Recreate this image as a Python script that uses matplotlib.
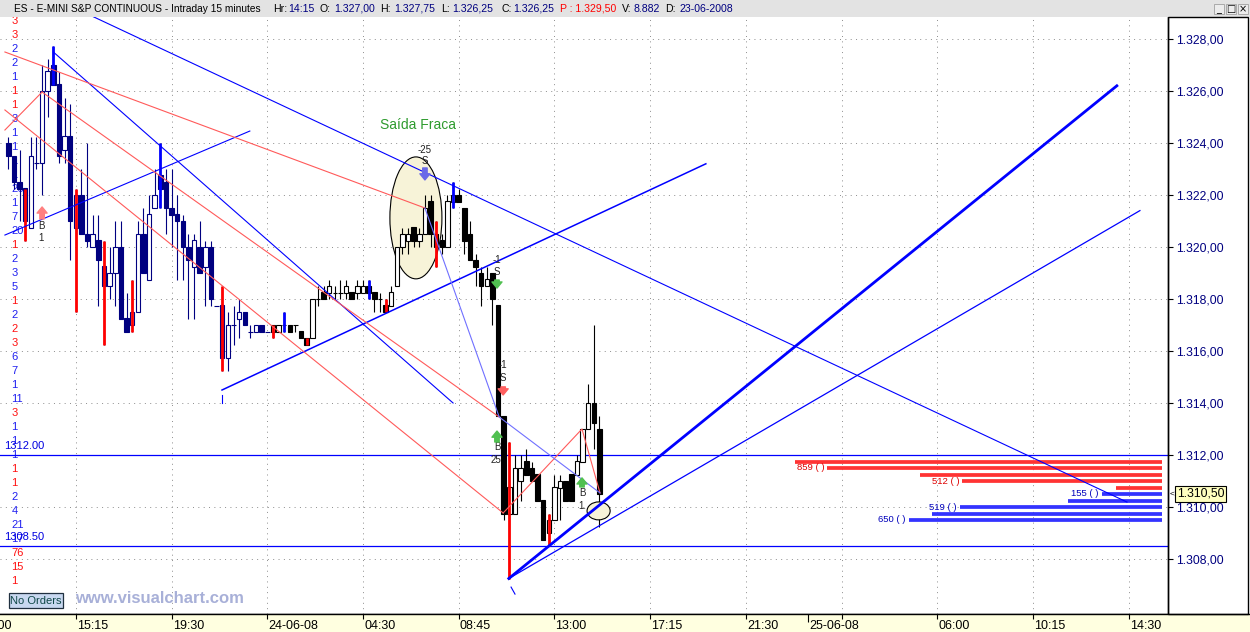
import numpy as np
import matplotlib
matplotlib.use("Agg")
import matplotlib.pyplot as plt
from matplotlib.patches import Ellipse, Rectangle
from matplotlib.transforms import blended_transform_factory

plt.rcParams['font.family'] = ['Liberation Sans', 'DejaVu Sans']

# ---------------- data (15-minute bars, ES) ----------------
opens = [1324.0, 1323.5, 1322.5, 1322.25, 1320.75, 1323.25, 1323.25, 1326.0, 1327.0, 1326.25,
         1323.75, 1324.25, 1320.75, 1322.0, 1320.5, 1320.0, 1320.25, 1319.25, 1318.5, 1319.0,
         1320.0, 1317.25, 1317.0, 1317.5, 1320.5, 1318.75, 1321.5, 1322.75, 1322.5, 1321.5,
         1321.25, 1321.0, 1320.0, 1319.25, 1320.0, 1319.25, 1320.0, 1317.75, 1317.75, 1315.75,
         1317.0, 1317.25, 1317.5, 1316.75, 1316.75, 1317.0, 1316.75, 1316.75, 1316.75, 1317.0,
         1317.0, 1317.0, 1316.75, 1316.5, 1316.5, 1318.0, 1318.25, 1318.25, 1318.25, 1318.25,
         1318.25, 1318.25, 1318.25, 1318.25, 1318.5, 1318.25, 1318.0, 1317.75, 1317.75, 1318.5,
         1320.0, 1320.25, 1320.75, 1320.25, 1320.5, 1321.75, 1320.5, 1320.25, 1320.0, 1321.75,
         1322.0, 1321.5, 1320.5, 1319.5, 1319.0, 1318.5, 1319.0, 1317.75, 1313.5, 1309.75,
         1309.75, 1311.0, 1311.75, 1311.5, 1311.25, 1310.25, 1309.0, 1309.5, 1310.75, 1311.0,
         1311.25, 1311.25, 1311.75, 1313.0, 1314.0, 1313.0]
highs = [1324.25, 1323.5, 1323.75, 1322.25, 1324.25, 1324.25, 1327.0, 1327.25, 1327.75, 1326.75,
         1325.75, 1325.5, 1322.25, 1323.0, 1324.0, 1321.25, 1321.25, 1320.25, 1320.0, 1321.0,
         1321.0, 1318.25, 1318.75, 1321.0, 1321.5, 1322.0, 1323.0, 1324.0, 1323.0, 1323.0,
         1322.0, 1321.25, 1320.5, 1320.5, 1321.0, 1320.25, 1320.25, 1317.75, 1318.5, 1317.5,
         1317.75, 1318.0, 1317.5, 1317.0, 1317.0, 1317.0, 1316.75, 1317.0, 1317.0, 1317.5,
         1317.0, 1317.0, 1316.75, 1316.5, 1318.0, 1318.5, 1318.5, 1318.75, 1318.5, 1318.75,
         1318.75, 1318.25, 1318.75, 1318.75, 1318.75, 1318.25, 1318.25, 1318.0, 1318.5, 1320.0,
         1320.75, 1320.75, 1320.75, 1320.75, 1322.0, 1322.0, 1321.0, 1320.5, 1322.0, 1322.5,
         1322.25, 1321.5, 1321.0, 1319.75, 1319.25, 1319.25, 1319.0, 1317.75, 1313.5, 1312.5,
         1312.0, 1312.0, 1312.25, 1311.75, 1311.25, 1310.25, 1309.75, 1311.25, 1311.25, 1311.0,
         1311.25, 1312.0, 1313.0, 1314.75, 1317.0, 1313.5]
lows = [1323.0, 1322.25, 1321.0, 1320.25, 1320.75, 1323.0, 1322.0, 1325.0, 1326.25, 1323.25,
        1323.25, 1319.5, 1317.5, 1320.5, 1320.0, 1320.0, 1317.75, 1316.25, 1318.0, 1317.75,
        1317.25, 1316.75, 1316.75, 1317.5, 1319.0, 1318.75, 1321.5, 1321.5, 1320.5, 1320.0,
        1318.75, 1318.75, 1317.25, 1317.25, 1319.0, 1317.75, 1317.75, 1317.75, 1315.25, 1315.25,
        1316.25, 1316.5, 1317.0, 1316.5, 1316.75, 1316.75, 1316.75, 1316.5, 1316.75, 1316.75,
        1316.75, 1316.75, 1316.5, 1316.25, 1316.5, 1317.75, 1318.0, 1318.0, 1318.0, 1318.0,
        1318.0, 1318.0, 1318.0, 1318.25, 1318.0, 1317.5, 1317.5, 1317.5, 1317.75, 1318.5,
        1319.75, 1319.75, 1320.0, 1320.0, 1320.5, 1320.0, 1319.25, 1319.75, 1320.0, 1321.5,
        1321.75, 1319.75, 1319.5, 1318.5, 1317.75, 1318.5, 1317.0, 1313.5, 1309.5, 1307.25,
        1309.75, 1310.25, 1311.25, 1311.0, 1310.25, 1308.75, 1308.5, 1309.5, 1309.5, 1310.25,
        1310.25, 1311.25, 1311.75, 1313.0, 1312.25, 1309.25]
closes = [1323.5, 1322.5, 1322.25, 1321.0, 1323.5, 1323.25, 1326.0, 1326.75, 1326.25, 1323.5,
          1324.25, 1321.0, 1322.0, 1320.5, 1320.25, 1320.5, 1319.5, 1318.5, 1319.0, 1320.0,
          1317.25, 1316.75, 1317.5, 1320.5, 1319.0, 1321.25, 1322.0, 1322.25, 1321.5, 1321.25,
          1321.0, 1320.0, 1319.5, 1320.25, 1319.0, 1320.0, 1318.0, 1317.75, 1315.75, 1317.0,
          1317.0, 1317.5, 1317.0, 1316.75, 1317.0, 1316.75, 1316.75, 1317.0, 1317.0, 1317.0,
          1316.75, 1317.0, 1316.5, 1316.25, 1318.0, 1318.0, 1318.0, 1318.5, 1318.25, 1318.25,
          1318.5, 1318.0, 1318.5, 1318.5, 1318.25, 1318.0, 1318.0, 1317.5, 1318.25, 1320.0,
          1320.5, 1320.5, 1320.25, 1320.5, 1321.5, 1320.5, 1320.0, 1320.0, 1321.75, 1322.0,
          1321.75, 1320.25, 1319.5, 1319.25, 1318.5, 1318.75, 1318.0, 1313.5, 1309.75, 1310.75,
          1311.5, 1311.5, 1311.25, 1311.0, 1310.25, 1308.75, 1309.5, 1310.75, 1311.0, 1310.25,
          1310.25, 1311.75, 1313.0, 1314.0, 1313.25, 1310.5]

# indicator marks painted over some bars
red_mark_bars = [3, 12, 17, 22, 38, 47, 53, 67, 76, 89, 96]
red_mark_top = [1322.25, 1322.25, 1320.25, 1318.75, 1318.5, 1317.0, 1316.5, 1318.0, 1321.0, 1312.5, 1309.75]
red_mark_bot = [1320.25, 1317.5, 1316.25, 1316.75, 1315.25, 1316.5, 1316.25, 1317.5, 1319.25, 1307.25, 1308.5]
blue_mark_bars = [8, 27, 49, 64, 79]
blue_mark_top = [1327.75, 1324.0, 1317.5, 1318.75, 1322.5]
blue_mark_bot = [1326.25, 1321.5, 1316.75, 1318.0, 1321.5]

# drawn trend lines: (bar index list, price list)
tl_blue_long = ([14.87, 198.7], [1328.88, 1310.19])
tl_blue_peak = ([8.0, 79.0], [1327.5, 1314.0])
tl_blue_left = ([-0.6, 42.9], [1320.46, 1324.46])
tl_blue_mid = ([37.96, 123.9], [1314.5, 1323.2])
tl_red_1 = ([-0.6, 74.0], [1327.5, 1321.5])
tl_red_2 = ([6.0, 87.2], [1325.96, 1313.46])
tl_red_3 = ([-0.6, 87.9], [1325.27, 1309.77])
tl_red_4 = ([-0.6, 6.0], [1324.5, 1325.96])
tl_red_zig = ([87.9, 101.9, 105.1], [1309.77, 1313.0, 1310.54])
tl_lb_zig = ([74.0, 87.2, 105.1], [1321.5, 1313.46, 1310.54])
tl_thick_up = ([88.9, 196.9], [1307.25, 1326.2])
tl_thin_up = ([88.9, 201.0], [1307.25, 1321.4])
tl_tick_a = ([37.96, 37.96], [1314.31, 1314.0])
tl_tick_b = ([89.3, 90.0], [1306.92, 1306.65])

# market depth ladder
ask_prices = [1311.75, 1311.5, 1311.25, 1311.0, 1310.75]
ask_vols = [941, 859, 622, 512, 118]
bid_prices = [1310.5, 1310.25, 1310.0, 1309.75, 1309.5]
bid_vols = [155, 242, 519, 589, 650]

# price levels shown with left labels
level_lines = [1312.00, 1308.50]

# left column counts (top to bottom)
left_counts = ['3', '3', '2', '2', '1', '1', '1', '3', '1', '1', '1', '1', '26', '1', '7', '20',
               '1', '2', '3', '5', '1', '2', '2', '3', '6', '7', '1', '11', '3', '1', '1', '1',
               '1', '1', '2', '4', '21', '17', '76', '15', '1']
left_sides = ['r', 'r', 'b', 'b', 'b', 'r', 'r', 'b', 'b', 'b', 'b', 'b', 'b', 'b', 'b', 'b',
              'r', 'b', 'b', 'b', 'r', 'b', 'r', 'r', 'b', 'b', 'b', 'b', 'r', 'b', 'b', 'b',
              'r', 'r', 'b', 'b', 'b', 'b', 'r', 'r', 'r']

# x-axis labels
time_tick_bars = [-5, 12, 29, 46, 63, 80, 97, 114, 131, 148, 165, 182, 199]
time_tick_labels = ['11:00', '15:15', '19:30', '24-06-08', '04:30', '08:45', '13:00',
                    '17:15', '21:30', '', '06:00', '10:15', '14:30']
date_tick_bars = [142]
date_tick_labels = ['25-06-08']

header_parts = [("ES - E-MINI S&P CONTINUOUS - Intraday 15 minutes", 14, 'k'),
                ("Hr:", 273, 'k'), ("14:15", 288, 'n'),
                ("O:", 320, 'k'), ("1.327,00", 334, 'n'),
                ("H:", 380, 'k'), ("1.327,75", 394, 'n'),
                ("L:", 441, 'k'), ("1.326,25", 452, 'n'),
                ("C:", 501, 'k'), ("1.326,25", 513, 'n'),
                ("P : 1.329,50", 560, 'r'),
                ("V:", 622, 'k'), ("8.882", 633, 'n'),
                ("D:", 665, 'k'), ("23-06-2008", 679, 'n')]

signal_texts = [("B", 5.8, 1320.81), ("1", 5.8, 1320.35), ("-25", 74.0, 1323.73),
                ("S", 74.0, 1323.31), ("-1", 86.8, 1319.5), ("S", 86.8, 1319.04),
                ("-1", 87.9, 1315.46), ("S", 87.9, 1314.96), ("B", 86.8, 1312.31),
                ("25", 86.6, 1311.81), ("B", 101.9, 1310.54), ("1.", 101.9, 1310.04)]
signal_arrows = [(6.0, 1321.08, 1321.54, '#FF8080'), (74.0, 1323.04, 1322.58, '#6A6AE8'),
                 (86.8, 1318.73, 1318.42, '#50C050'), (87.9, 1314.62, 1314.31, '#FF6060'),
                 (86.8, 1312.5, 1312.92, '#50C050'), (101.9, 1310.77, 1311.12, '#50C050')]

# ---------------- layout (pixels) ----------------
W, H = 1250, 632
PL, PR, PT, PB = 0, 1168, 17, 614
X0, BAR = 8.3, 5.63
P_REF, Y_REF, PXPT = 1312.0, 455.0, 26.0

def fx(x):
    return x / W

def fy(y):
    return 1 - y / H

NAVY = '#000080'
fig = plt.figure(figsize=(W / 100, H / 100), dpi=100)
fig.patch.set_facecolor('white')

ax = fig.add_axes([fx(PL), fy(PB), (PR - PL) / W, (PB - PT) / H])
ax.set_xlim((PL - X0) / BAR, (PR - X0) / BAR)
ax.set_ylim(P_REF - (PB - Y_REF) / PXPT, P_REF + (Y_REF - PT) / PXPT)
ax.set_facecolor('white')
for s in ['left', 'top']:
    ax.spines[s].set_visible(False)
for s in ['right', 'bottom']:
    ax.spines[s].set_color('black')
    ax.spines[s].set_linewidth(1.0)
ax.tick_params(axis='x', bottom=False, labelbottom=False)

yt = np.arange(1308, 1329, 2)
ax.yaxis.tick_right()
ax.set_yticks(yt)
ax.set_yticklabels([f"{v:,.2f}".replace(",", "X").replace(".", ",").replace("X", ".") for v in yt])
ax.tick_params(axis='y', direction='out', length=3.5, width=0.8, colors='black',
               labelcolor=NAVY, labelsize=8.8, pad=2)

dots = (0, (1, 4.5))
for v in yt:
    ax.axhline(v, color='#8C8C8C', lw=0.7, ls=dots, zorder=0.5)
for b, lab in zip(time_tick_bars, time_tick_labels):
    ax.axvline(b, color='#8C8C8C', lw=0.7, ls=dots, zorder=0.5)

for lv in level_lines:
    ax.axhline(lv, color='#0000FF', lw=0.9, zorder=2)

# left counts (figure px positions)
for k, (t, side) in enumerate(zip(left_counts, left_sides)):
    ax.text(fx(11.5), fy(21 + 14 * k), t, transform=fig.transFigure, ha='left', va='center',
            fontsize=8, color='#FF1010' if side == 'r' else '#2020F0', zorder=1.5, clip_on=False)
for lv in level_lines:
    ytxt = Y_REF - (lv - P_REF) * PXPT - 9
    ax.text(fx(4), fy(ytxt), f"{lv:.2f}", transform=fig.transFigure, ha='left', va='center',
            fontsize=8, color='#0000E0', zorder=1.6)

# ellipses
ax.add_patch(Ellipse((72.4, 1321.12), 9.24, 4.69, facecolor='#F7F3D8', edgecolor='black',
                     lw=0.8, zorder=1))

# candles
o = np.array(opens); h = np.array(highs); l = np.array(lows); c = np.array(closes)
x = np.arange(len(o))
cols = [NAVY if i < 47 else 'black' for i in x]
ax.vlines(x, l, h, colors=cols, lw=0.8, zorder=2.9)
bull = c >= o
face = ['white' if bu else col for bu, col in zip(bull, cols)]
ax.bar(x, np.abs(c - o), bottom=np.minimum(o, c), width=0.8, color=face, edgecolor=cols,
       linewidth=0.8, zorder=3)

ax.vlines(red_mark_bars, red_mark_bot, red_mark_top, colors='#FF0000', lw=2.0, zorder=3.5)
ax.vlines(blue_mark_bars, blue_mark_bot, blue_mark_top, colors='#0000FF', lw=2.0, zorder=3.5)

# trend lines
for ln in [tl_blue_long, tl_blue_peak, tl_blue_left, tl_tick_a, tl_tick_b]:
    ax.plot(*ln, color='#0000FF', lw=0.8, zorder=4)
ax.plot(*tl_blue_mid, color='#0000FF', lw=1.1, zorder=4)
for ln in [tl_red_1, tl_red_2, tl_red_3, tl_red_4, tl_red_zig]:
    ax.plot(*ln, color='#FF5A5A', lw=0.8, zorder=4)
ax.plot(*tl_lb_zig, color='#7070FF', lw=0.8, zorder=4)
ax.add_patch(Ellipse((104.85, 1309.85), 4.1, 0.69, facecolor='#F7F3D8', edgecolor='black',
                     lw=0.8, zorder=4.2))
ax.plot(*tl_thin_up, color='#0000FF', lw=0.9, zorder=4.5)
ax.plot(*tl_thick_up, color='#0000FF', lw=2.0, zorder=4.5)

# market depth ladder
RIGHT_END = (1162 - X0) / BAR
VOL_PER_BAR = 2.566 * BAR
for prices, vols, col, lcol, start in [(ask_prices, ask_vols, '#FF3333', '#DD0000', 1),
                                       (bid_prices, bid_vols, '#3333FF', '#0000BB', 0)]:
    for k, (p, v) in enumerate(zip(prices, vols)):
        x0 = RIGHT_END - v / VOL_PER_BAR
        ax.hlines(p, x0, RIGHT_END, colors=col, lw=2.7, zorder=3)
        if k % 2 == start:
            ax.text(x0 - 0.5, p, f"{v} ( )", ha='right', va='center', fontsize=6.8,
                    color=lcol, zorder=5)

# signals
ax.text(72.8, 1324.69, "Saída Fraca", color='#2E9B2E', fontsize=10, ha='center', va='center',
        zorder=6)
for t, bx, p in signal_texts:
    ax.text(bx, p, t, fontsize=7, ha='center', va='center', color='#202020', zorder=6)
for bx, pt, pp, col in signal_arrows:
    ax.annotate('', xy=(bx, pp), xytext=(bx, pt),
                arrowprops=dict(arrowstyle='simple,head_length=0.55,head_width=0.9,tail_width=0.4',
                                color=col, shrinkA=0, shrinkB=0, mutation_scale=8), zorder=6)

# last price box
bt = blended_transform_factory(ax.transAxes, ax.transData)
ax.text(1 + 9 / (PR - PL), closes[-1], "1.310,50", transform=bt, ha='left', va='center',
        fontsize=8.8, color='black', zorder=7, clip_on=False,
        bbox=dict(boxstyle='square,pad=0.15', fc='#FFFFC0', ec='black', lw=0.8))
ax.text(1 + 2 / (PR - PL), closes[-1], "<", transform=bt, ha='left', va='center',
        fontsize=6, color='black', zorder=7, clip_on=False)

# right panel border
fig.add_artist(Rectangle((fx(PR), fy(PB)), (1248 - PR) / W, (PB - PT) / H, fill=False,
                         ec='black', lw=1.0, transform=fig.transFigure))

# bottom time band
axb = fig.add_axes([0, 0, 1, (H - PB) / H])
axb.set_xlim((0 - X0) / BAR, (W - X0) / BAR)
axb.set_ylim(0, 1)
axb.set_facecolor('#FFFFE0')
axb.set_xticks([]); axb.set_yticks([])
for s in ['left', 'right', 'bottom']:
    axb.spines[s].set_visible(False)
axb.spines['top'].set_linewidth(1.0)
for b, lab in zip(time_tick_bars, time_tick_labels):
    axb.vlines(b, 0.7, 1, colors='black', lw=0.8)
    if lab:
        axb.text(b + 0.2, 0.33, lab, ha='left', va='center', fontsize=9, color='black')
for b, lab in zip(date_tick_bars, date_tick_labels):
    axb.vlines(b, 0.55, 1, colors='black', lw=0.8)
    axb.text(b + 0.2, 0.33, lab, ha='left', va='center', fontsize=9, color='black')

# header band
axh = fig.add_axes([0, fy(PT), 1, PT / H])
axh.set_facecolor('#E3E3E3')
axh.set_xticks([]); axh.set_yticks([])
for s in axh.spines.values():
    s.set_visible(False)
hcol = {'k': 'black', 'n': NAVY, 'r': '#FF0000'}
for k, (txt, xp, cc) in enumerate(header_parts):
    fig.text(fx(xp), fy(8.5), txt, ha='left', va='center', fontsize=7.3 if k == 0 else 7.6,
             color=hcol[cc])
for xb, sym in [(1214, '_'), (1226, '\u25a1'), (1238, '\u00d7')]:
    fig.add_artist(Rectangle((fx(xb), fy(14)), 10 / W, 10 / H, fc='#ECECEC', ec='#A0A0A0',
                             lw=0.6, transform=fig.transFigure))
    fig.text(fx(xb + 5), fy(9), sym, ha='center', va='center', fontsize=7, color='black',
             family=['DejaVu Sans'])

# footer tags
fig.add_artist(Rectangle((fx(9), fy(608)), 54 / W, 15 / H, fc='#C8D8F0', ec='#203040',
                         lw=0.9, transform=fig.transFigure, zorder=8))
fig.text(fx(36), fy(600.5), "No Orders", ha='center', va='center', fontsize=8,
         color='#104848', zorder=9)
fig.text(fx(75), fy(598.5), "www.visualchart.com", ha='left', va='center', fontsize=12,
         fontweight='bold', color='#A8B0D8', zorder=9)

fig.savefig("out.png", dpi=100)
